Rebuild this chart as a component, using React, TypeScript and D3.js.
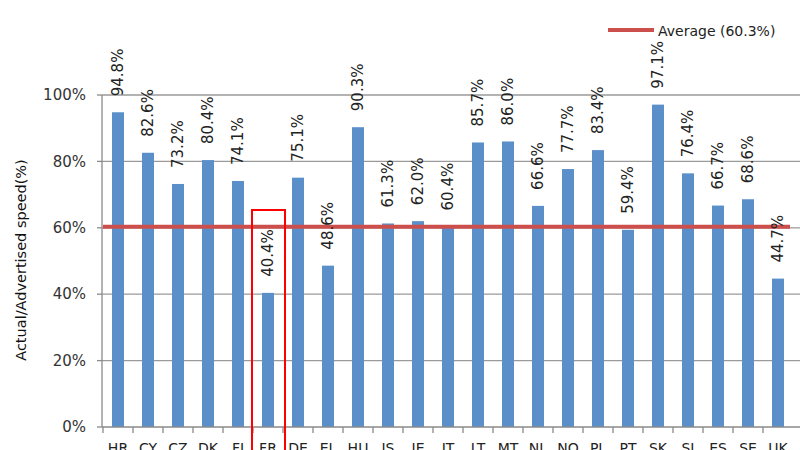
import React from "react";
import * as d3 from "d3";

const categories = ["HR","CY","CZ","DK","FI","FR","DE","EL","HU","IS","IE","IT","LT","MT","NL","NO","PL","PT","SK","SI","ES","SE","UK"];
const values = [94.8,82.6,73.2,80.4,74.1,40.4,75.1,48.6,90.3,61.3,62.0,60.4,85.7,86.0,66.6,77.7,83.4,59.4,97.1,76.4,66.7,68.6,44.7];
const average = 60.3;
const yTicks = [0, 20, 40, 60, 80, 100];
const highlighted = "FR";

export default function App() {
  const W = 800, H = 450;
  const x = d3.scaleBand<string>().domain(categories).range([103, 793]).paddingInner(0.6).paddingOuter(0.3);
  const band = d3.scaleBand<string>().domain(categories).range([103, 793]);
  const y = d3.scaleLinear().domain([0, 100]).range([427, 95]);
  const font = "'DejaVu Sans', Verdana, sans-serif";
  const hx = band(highlighted)!;
  return (
    <svg width={W} height={H} style={{ position: "absolute", left: 0, top: 0, background: "#fff" }}>
      {yTicks.map(t => (
        <g key={t}>
          {t > 0 && <line x1={102} x2={800} y1={y(t)} y2={y(t)} stroke="#9a9a9a" strokeWidth={1.3} />}
          <line x1={97} x2={102} y1={y(t)} y2={y(t)} stroke="#8a8a8a" strokeWidth={1.3} />
          <text x={86} y={y(t)} dy="0.35em" textAnchor="end" fontFamily={font} fontSize={15} fill="#333">{t}%</text>
        </g>
      ))}
      <text transform={`translate(26,260) rotate(-90)`} textAnchor="middle" fontFamily={font} fontSize={14.5} fill="#111">Actual/Advertised speed(%)</text>
      {values.map((v, i) => (
        <rect key={categories[i]} x={x(categories[i])!} y={y(v)} width={x.bandwidth()} height={y(0) - y(v)} fill="#5b8fca" />
      ))}
      <line x1={102} x2={102} y1={y(100)} y2={y(0)} stroke="#8a8a8a" strokeWidth={1.3} />
      <line x1={102} x2={800} y1={y(0)} y2={y(0)} stroke="#8a8a8a" strokeWidth={1.3} />
      {categories.map((c, i) => (
        <g key={c}>
          <line x1={band(c)!} x2={band(c)!} y1={y(0)} y2={y(0) + 6} stroke="#8a8a8a" strokeWidth={1.3} />
          <text x={band(c)! + band.bandwidth() / 2} y={453} textAnchor="middle" fontFamily={font} fontSize={14} fill="#222">{c}</text>
        </g>
      ))}
      <line x1={103} x2={790} y1={y(average)} y2={y(average)} stroke="#cd4f4c" strokeWidth={4} />
      {values.map((v, i) => {
        const cx = x(categories[i])! + x.bandwidth() / 2;
        const ty = y(v) - 16;
        return (
          <text key={categories[i]} transform={`translate(${cx + 5},${ty}) rotate(-90)`} textAnchor="start" fontFamily={font} fontSize={15} fill="#222">{v.toFixed(1)}%</text>
        );
      })}
      <rect x={hx - 1} y={210} width={band.bandwidth() + 3} height={260} fill="none" stroke="#ff0000" strokeWidth={2} />
      <line x1={608} x2={654} y1={30} y2={30} stroke="#cd4f4c" strokeWidth={4} />
      <text x={658} y={31} dy="0.35em" fontFamily={font} fontSize={14} fill="#222">Average (60.3%)</text>
    </svg>
  );
}
